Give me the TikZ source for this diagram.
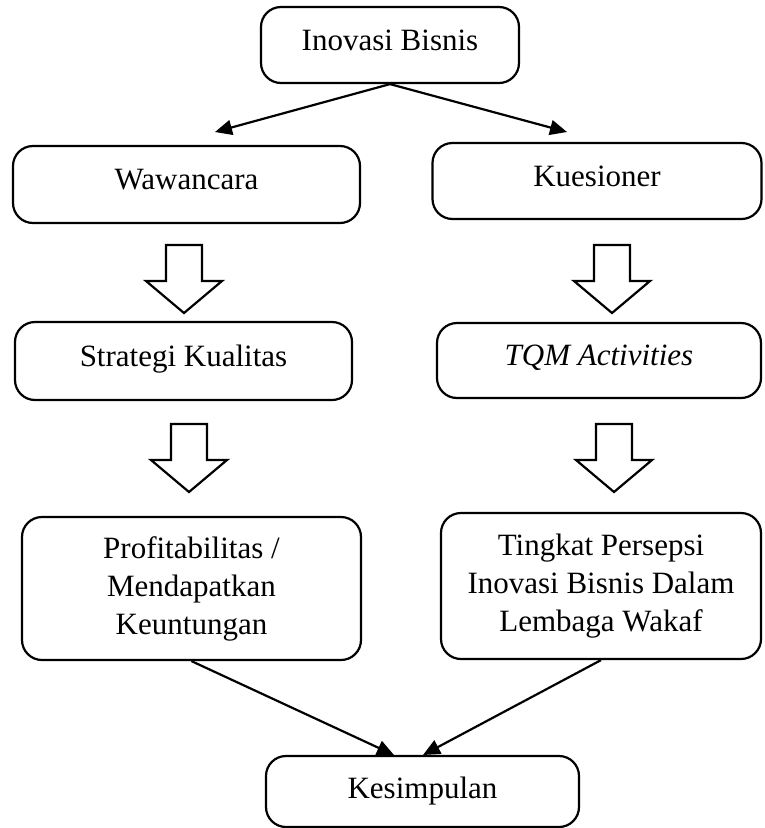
\documentclass[tikz,border=0pt]{standalone}
\usepackage{fontspec}
\setmainfont{Liberation Serif}
\usetikzlibrary{arrows.meta}

\begin{document}
\begin{tikzpicture}[x=1pt,y=-1pt,
    kotak/.style={draw, line width=2.2pt, rounded corners=20pt, align=center, inner sep=0pt,
        font=\fontsize{31}{38}\selectfont},
    naik/.style={text height=10pt, text depth=0pt},
    panah/.style={-{Triangle[length=17pt,width=15pt]}, line width=2.2pt},
    blok/.style={draw, line width=2.2pt, line join=miter}]
    \useasboundingbox (0,0) rectangle (764,828);

    % 绘制方框
    \node[kotak, naik, minimum width=258pt, minimum height=76pt] (inovasi) at (390,45) {Inovasi Bisnis};
    \node[kotak, naik, minimum width=347pt, minimum height=77pt] (wawancara) at (186.5,184.5) {Wawancara};
    \node[kotak, naik, minimum width=329pt, minimum height=76pt] (kuesioner) at (597,181) {Kuesioner};
    \node[kotak, naik, minimum width=337pt, minimum height=78pt] (strategi) at (183.5,361) {Strategi Kualitas};
    \node[kotak, naik, minimum width=324pt, minimum height=75pt] (tqm) at (599,360.5) {\itshape TQM Activities};
    \node[kotak, minimum width=339pt, minimum height=143pt] (profit) at (191.5,588.5)
        {Profitabilitas /\\Mendapatkan\\Keuntungan};
    \node[kotak, minimum width=320pt, minimum height=146pt] (persepsi) at (601,586)
        {Tingkat Persepsi\\Inovasi Bisnis Dalam\\Lembaga Wakaf};
    \node[kotak, minimum width=313pt, minimum height=71pt] (kesimpulan) at (422.5,791.5) {Kesimpulan};

    % 箭头端点
    \coordinate (ujungkiri) at (215,132);
    \coordinate (ujungkanan) at (567,132);
    \coordinate (masukkiri) at (394,755);
    \coordinate (masukkanan) at (423,755);

    \draw[panah] (inovasi.south) -- (ujungkiri);
    \draw[panah] (inovasi.south) -- (ujungkanan);
    \draw[panah] (profit.south) -- (masukkiri);
    \draw[panah] (persepsi.south) -- (masukkanan);

    % 空心箭头
    \foreach \x/\y in {184/245, 612/245, 189/424, 614/424}
        \draw[blok] (\x-18,\y) -- (\x+18,\y) -- (\x+18,\y+36) -- (\x+38,\y+36)
            -- (\x,\y+68) -- (\x-38,\y+36) -- (\x-18,\y+36) -- cycle;

\end{tikzpicture}
\end{document}
